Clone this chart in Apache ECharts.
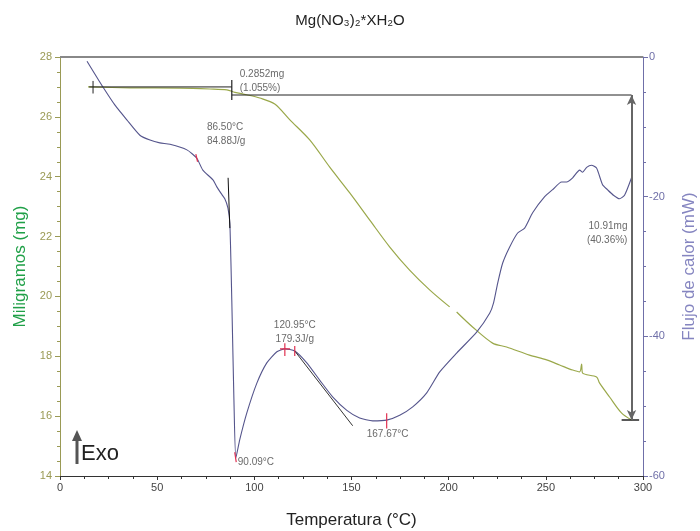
<!DOCTYPE html>
<html><head><meta charset="utf-8">
<script src="https://cdn.jsdelivr.net/npm/echarts@6/dist/echarts.min.js"></script>
<style>html,body{margin:0;padding:0;background:#fff}#c{width:700px;height:531px}</style>
</head><body><div id="c"></div>
<script>
// Temperature (°C) and mass (mg) of the TGA curve
const tgaT  = [14.4, 36, 61.7, 77.1, 85.9, 90, 96, 102.8, 110.5, 118.3, 128.5, 138.8, 149.1, 159.4, 169.7, 179.9, 190.2, 200.5, 202, 204.1, 212.3, 222.6, 229.8, 241.6, 250.4, 257.1, 263.8, 267.4, 268.4, 268.9, 276.1, 277.6, 282.8, 288.9, 294.1];
const tgaMg = [27.0, 26.97, 26.96, 26.93, 26.90, 26.82, 26.74, 26.63, 26.43, 25.90, 25.23, 24.32, 23.46, 22.55, 21.65, 20.88, 20.22, 19.65, '-', 19.48, 18.98, 18.44, 18.31, 18.04, 17.88, 17.71, 17.54, 17.48, 17.74, 17.44, 17.31, 17.11, 16.64, 16.11, 15.87];
// Temperature (°C) and heat flow (mW) of the DSC curve
const dscT  = [13.9, 22.1, 28.3, 34.4, 41.1, 46.3, 51.4, 56.6, 65.3, 70.4, 73.5, 78.7, 80.7, 82.8, 84.8, 86.4, 87.4, 88.4, 89.5, 90.5, 92.5, 96.1, 101.3, 106.4, 111.6, 115.7, 120.8, 127.0, 133.7, 140.4, 147.6, 154.2, 160.9, 168.1, 174.8, 181.5, 188.7, 195.4, 204.1, 214.4, 221.1, 223.1, 225.2, 227.8, 231.4, 235.5, 239.1, 243.2, 249.4, 253.5, 258.1, 260.7, 263.8, 267.4, 268.9, 271.0, 273.5, 276.1, 279.2, 281.7, 284.8, 287.9, 290.5, 294.1];
const dscMw = [-0.6, -4.3, -6.9, -9.0, -11.2, -11.9, -12.3, -12.5, -13.3, -14.5, -16.2, -17.6, -18.6, -19.5, -20.3, -21.6, -23.8, -34.8, -49.1, -57.4, -54.8, -51.0, -46.7, -43.8, -42.2, -41.8, -42.1, -43.8, -46.3, -48.7, -50.6, -51.7, -52.1, -52.0, -51.3, -50.1, -48.1, -45.1, -42.4, -39.4, -36.7, -35.2, -32.4, -29.5, -27.2, -25.2, -24.5, -22.3, -20.0, -19.0, -17.9, -17.9, -17.3, -16.2, -16.5, -15.8, -15.5, -15.9, -18.3, -19.0, -19.8, -20.3, -19.8, -17.3];
// Axis ticks
const xTicks = [0, 50, 100, 150, 200, 250, 300];
const mgTicks = [14, 16, 18, 20, 22, 24, 26, 28];
const mwTicks = [-60, -40, -20, 0];
// Frame line along the top of the plot (mg axis)
const topFrame = [[0, 28], [300, 28]];
// Annotations: TGA step (mg axis)
const tgaBase1 = [[15, 27.0], [88.4, 27.0]];
const tgaBase2 = [[88.4, 26.73], [294.1, 26.73]];
const tgaStepTick = [[88.4, 27.23], [88.4, 26.56]];
const tgaStartTick = [[17, 27.2], [17, 26.78]];
const tgaArrow = [[294.1, 26.73], [294.1, 15.87]];
const tgaBottomCap = [[289, 15.87], [298, 15.87]];
// Annotations: DSC (mW axis)
const dscPeak1Line = [[86.5, -17.3], [87.4, -24.5]];
const dscPeak2Line = [[120.8, -42.1], [150.6, -52.8]];
const redMarks = [[[69.9, -13.9], [70.8, -15.0]], [[89.9, -56.6], [90.7, -58.0]], [[113.2, -41.8], [118.4, -41.8]], [[115.7, -41.0], [115.7, -42.8]], [[120.8, -41.4], [120.8, -42.8]], [[168.1, -51.0], [168.1, -53.2]]];
// Text labels
const mgLabels = [{t: '0.2852mg\n(1.055%)', x: 92.5, y: 27.2, a: 'left'}, {t: '10.91mg\n(40.36%)', x: 292, y: 22.12, a: 'right'}];
const mwLabels = [{t: '86.50°C\n84.88J/g', x: 75.6, y: -11.1, a: 'left'}, {t: '120.95°C\n179.3J/g', x: 120.8, y: -39.4, a: 'center'}, {t: '90.09°C', x: 100.8, y: -58.0, a: 'center'}, {t: '167.67°C', x: 168.6, y: -54.0, a: 'center'}];

const zip = (a, b) => a.map((v, i) => [v, b[i]]);
const FONT = '"Liberation Sans", Arial, sans-serif';
const seg = (data, yIdx, color, w, extra) => Object.assign({type: 'line', yAxisIndex: yIdx, data, symbol: 'none', silent: true, lineStyle: {color, width: w}, z: 4}, extra || {});

const chart = echarts.init(document.getElementById('c'));
const series = [
  seg(topFrame, 0, '#888', 2, {clip: false, z: 2}),
  {type: 'line', name: 'TGA', yAxisIndex: 0, data: zip(tgaT, tgaMg), symbol: 'none', smooth: 0.3, connectNulls: false, lineStyle: {color: '#9aa84a', width: 1.2}, z: 3},
  {type: 'line', name: 'DSC', yAxisIndex: 1, data: zip(dscT, dscMw), symbol: 'none', smooth: 0.2, lineStyle: {color: '#55558c', width: 1.1}, z: 3},
  seg(tgaBase1, 0, '#222', 1), seg(tgaBase2, 0, '#222', 1), seg(tgaStepTick, 0, '#222', 1.2), seg(tgaStartTick, 0, '#222', 1),
  seg(tgaBottomCap, 0, '#222', 1.5),
  seg(dscPeak1Line, 1, '#111', 1), seg(dscPeak2Line, 1, '#333', 1),
  {type: 'line', yAxisIndex: 0, data: [], silent: true,
    markLine: {silent: true, symbol: ['arrow', 'arrow'], symbolSize: [7, 10], label: {show: false},
      lineStyle: {color: '#666', width: 2, type: 'solid'},
      data: [[{coord: tgaArrow[0]}, {coord: tgaArrow[1]}]]}},
  {type: 'scatter', yAxisIndex: 0, symbolSize: 0, silent: true, z: 6,
    data: mgLabels.map(l => ({value: [l.x, l.y], label: {show: true, formatter: l.t, position: 'inside', align: l.a, color: '#444', fontSize: 10, lineHeight: 14, fontFamily: FONT}}))},
  {type: 'scatter', yAxisIndex: 1, symbolSize: 0, silent: true, z: 6,
    data: mwLabels.map(l => ({value: [l.x, l.y], label: {show: true, formatter: l.t, position: 'inside', align: l.a, color: '#444', fontSize: 10, lineHeight: 14, fontFamily: FONT}}))}
];
redMarks.forEach(m => series.push(seg(m, 1, '#e03050', 1.2, {z: 5})));

chart.setOption({
  animation: false,
  backgroundColor: '#fff',
  textStyle: {fontFamily: FONT},
  title: {text: 'Mg(NO₃)₂*XH₂O', left: 'center', top: 8, textStyle: {fontSize: 15, fontWeight: 'normal', color: '#222', fontFamily: FONT}},
  grid: {left: 60, right: 57, top: 57, bottom: 55, show: false, containLabel: false, outerBoundsMode: 'none'},
  xAxis: {
    type: 'value', position: 'bottom', min: xTicks[0], max: xTicks[xTicks.length - 1], interval: 50,
    name: 'Temperatura (°C)', nameLocation: 'middle', nameGap: 36,
    nameTextStyle: {fontSize: 17, color: '#222', fontFamily: FONT},
    axisLine: {onZero: false, lineStyle: {color: '#333'}}, axisTick: {inside: false, length: 4, lineStyle: {color: '#333'}},
    minorTick: {show: true, splitNumber: 4, length: 3, lineStyle: {color: '#333'}},
    axisLabel: {color: '#444', fontSize: 11, margin: 6}, splitLine: {show: false}
  },
  yAxis: [{
    type: 'value', min: mgTicks[0], max: mgTicks[mgTicks.length - 1], interval: 2, position: 'left',
    name: 'Miligramos (mg)', nameLocation: 'middle', nameGap: 30,
    nameTextStyle: {fontSize: 17, color: '#20a048', fontFamily: FONT},
    axisLine: {show: true, onZero: false, lineStyle: {color: '#9a9a55'}}, axisTick: {show: true, length: 5, lineStyle: {color: '#9a9a55'}},
    minorTick: {show: true, splitNumber: 4, length: 3, lineStyle: {color: '#9a9a55'}},
    axisLabel: {color: '#9a9a55', fontSize: 11, margin: 8}, splitLine: {show: false}
  }, {
    type: 'value', min: mwTicks[0], max: mwTicks[mwTicks.length - 1], interval: 20, position: 'right',
    name: 'Flujo de calor (mW)', nameLocation: 'middle', nameGap: 38, nameRotate: 90,
    nameTextStyle: {fontSize: 17, color: '#8585c0', fontFamily: FONT},
    axisLine: {show: true, onZero: false, lineStyle: {color: '#6f6fa8'}}, axisTick: {show: true, length: 5, lineStyle: {color: '#6f6fa8'}},
    minorTick: {show: true, splitNumber: 4, length: 3, lineStyle: {color: '#6f6fa8'}},
    axisLabel: {color: '#6f6fa8', fontSize: 11, margin: 6}, splitLine: {show: false}
  }],
  graphic: [
    {type: 'line', shape: {x1: 77, y1: 464, x2: 77, y2: 440}, style: {stroke: '#555', lineWidth: 3}},
    {type: 'polygon', shape: {points: [[72, 441], [82, 441], [77, 430]]}, style: {fill: '#555'}},
    {type: 'text', left: 81, top: 443, style: {text: 'Exo', fontSize: 22, fill: '#222', fontFamily: FONT}}
  ],
  series
});
</script></body></html>
